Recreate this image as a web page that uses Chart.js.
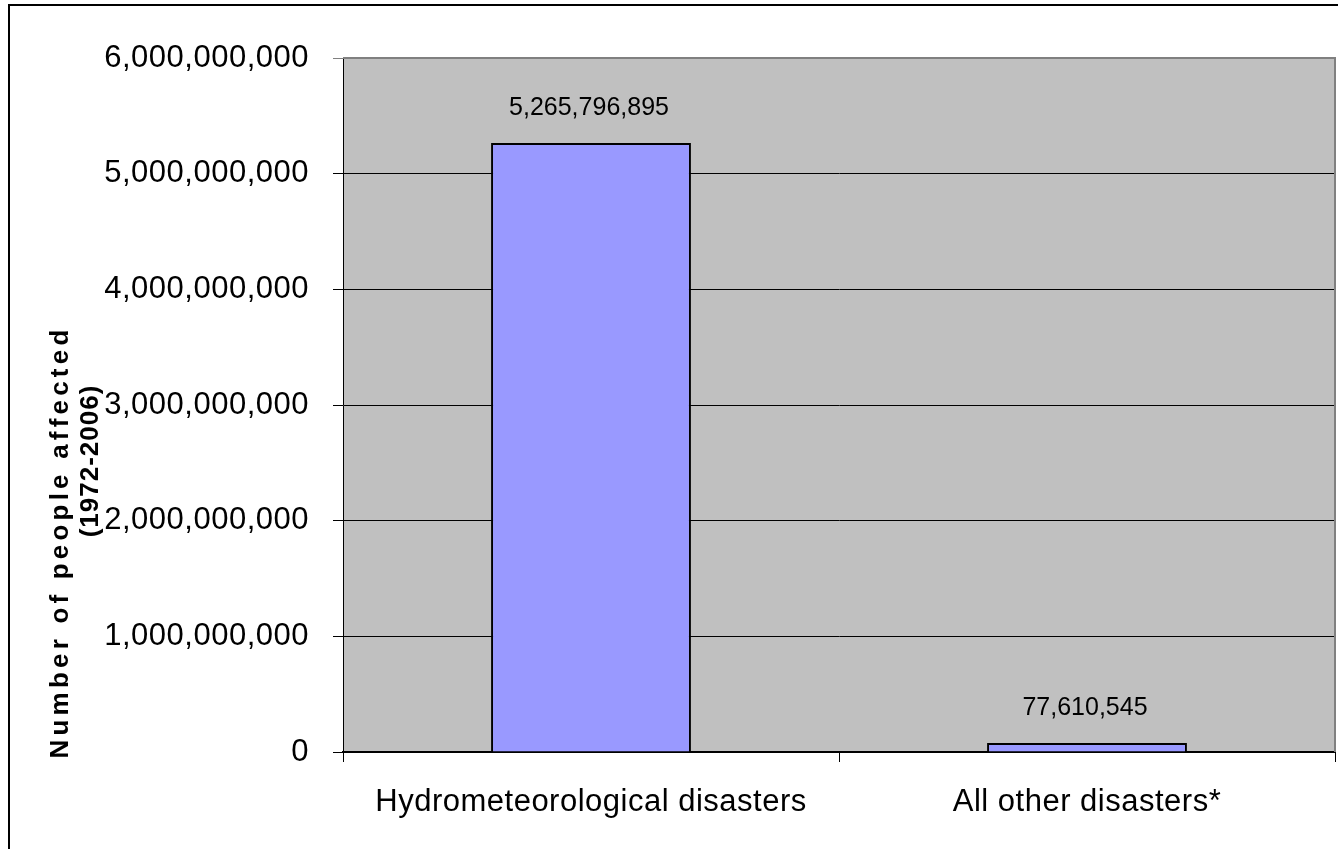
<!DOCTYPE html>
<html>
<head>
<meta charset="utf-8">
<script src="https://cdn.jsdelivr.net/npm/chart.js@4.4.0/dist/chart.umd.min.js"></script>
<style>
  html, body { margin: 0; padding: 0; background: #fff; overflow: hidden; }
  #wrap { position: absolute; left: 0; top: 0; width: 1338px; height: 849px; }
  #frame { position: absolute; left: 8px; top: 4px; width: 1400px; height: 900px; border: 2px solid #000; box-sizing: border-box; pointer-events: none; }
</style>
</head>
<body>
<div id="wrap"><canvas id="chart"></canvas></div>
<div id="frame"></div>
<script>
// data
const categories = ['Hydrometeorological disasters', 'All other disasters*'];
const peopleAffected = [5265796895, 77610545];
const yMin = 0;
const yMax = 6000000000;
const yStep = 1000000000;
const yTitleLines = ['Number of people affected', '(1972-2006)'];

const fontFamily = '"Liberation Sans", Arial, sans-serif';

function fmt(v) {
  return Number(v).toLocaleString('en-US');
}

function drawRotated(ctx, text, x, y, font, spacing) {
  ctx.save();
  ctx.fillStyle = '#000';
  ctx.textAlign = 'center';
  ctx.textBaseline = 'middle';
  ctx.font = font;
  ctx.letterSpacing = spacing;
  ctx.translate(x, y);
  ctx.rotate(-Math.PI / 2);
  ctx.fillText(text, 0, 0);
  ctx.restore();
}

const plotStyle = {
  id: 'plotStyle',
  beforeDraw(chart) {
    const ctx = chart.ctx;
    const a = chart.chartArea;
    ctx.save();
    ctx.fillStyle = '#C0C0C0';
    ctx.fillRect(a.left, a.top, a.right - a.left, a.bottom - a.top);
    ctx.restore();
    ctx.letterSpacing = '0.5px'; // used by the axis labels
  },
  afterDatasetsDraw(chart) {
    const ctx = chart.ctx;
    const a = chart.chartArea;
    ctx.save();
    // grey plot border on top and right
    ctx.strokeStyle = '#808080';
    ctx.lineWidth = 2;
    ctx.beginPath();
    ctx.moveTo(a.left, a.top);
    ctx.lineTo(a.right, a.top);
    ctx.lineTo(a.right, a.bottom);
    ctx.stroke();
    // value labels above bars
    ctx.letterSpacing = '0px';
    ctx.fillStyle = '#000';
    ctx.font = '25px ' + fontFamily;
    ctx.textAlign = 'center';
    ctx.textBaseline = 'middle';
    chart.getDatasetMeta(0).data.forEach(function (bar, i) {
      ctx.fillText(fmt(peopleAffected[i]), bar.x - 2, bar.y - 35);
    });
    ctx.restore();
  },
  afterDraw(chart) {
    drawRotated(chart.ctx, yTitleLines[0], 61, 542, 'bold 26px ' + fontFamily, '4.2px');
    drawRotated(chart.ctx, yTitleLines[1], 91, 461, 'bold 26px ' + fontFamily, '1px');
  }
};

const ctx = document.getElementById('chart').getContext('2d');
const chart = new Chart(ctx, {
  type: 'bar',
  data: {
    labels: categories,
    datasets: [{
      data: peopleAffected,
      backgroundColor: '#9999FF',
      borderColor: '#000000',
      borderWidth: 2,
      categoryPercentage: 1,
      barPercentage: 0.403
    }]
  },
  options: {
    responsive: true,
    maintainAspectRatio: false,
    animation: false,
    devicePixelRatio: 1,
    layout: {
      padding: { top: 58, right: 3, left: 0, bottom: 0 }
    },
    plugins: {
      legend: { display: false },
      tooltip: { enabled: false }
    },
    scales: {
      x: {
        afterFit: function (scale) { scale.height = 97; },
        grid: {
          drawOnChartArea: false,
          drawTicks: true,
          tickLength: 10,
          color: '#000000',
          offset: true
        },
        border: { color: '#000000', width: 2 },
        ticks: {
          color: '#000000',
          padding: 22,
          maxRotation: 0,
          autoSkip: false,
          font: { family: fontFamily, size: 31 }
        }
      },
      y: {
        min: yMin,
        max: yMax,
        afterFit: function (scale) { scale.width = 343; },
        grid: {
          color: function (c) { return c.tick && c.tick.value === yMax ? '#808080' : '#000000'; },
          lineWidth: 1,
          tickLength: 10
        },
        border: { color: '#000000', width: 1 },
        ticks: {
          stepSize: yStep,
          color: '#000000',
          padding: 24,
          font: { family: fontFamily, size: 31 },
          callback: function (v) { return fmt(v); }
        }
      }
    }
  },
  plugins: [plotStyle]
});
</script>
</body>
</html>
